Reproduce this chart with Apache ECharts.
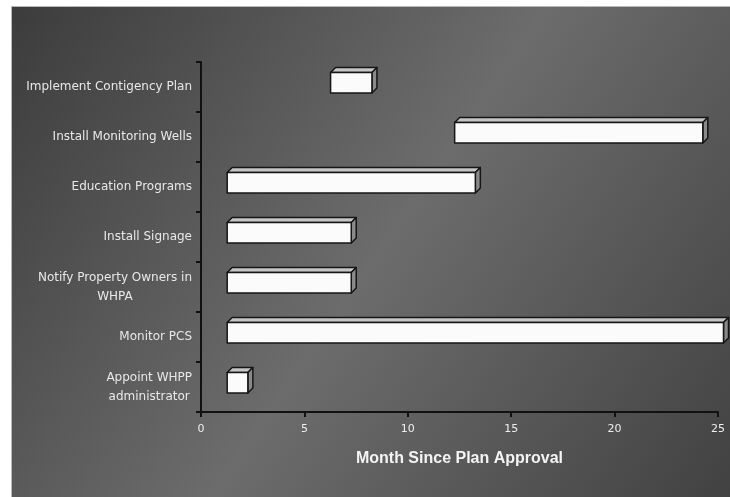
<!DOCTYPE html>
<html>
<head>
<meta charset="utf-8">
<script src="https://cdn.jsdelivr.net/npm/echarts@6/dist/echarts.min.js"></script>
<style>
    html, body { margin: 0; padding: 0; background: #fff; }
    #chart { width: 730px; height: 497px; }
</style>
</head>
<body>
<div id="chart"></div>
<script>
// tasks listed bottom to top (category axis starts at the bottom)
var tasks = ['Appoint WHPP\nadministrator', 'Monitor PCS', 'Notify Property Owners in\nWHPA',
    'Install Signage', 'Education Programs', 'Install Monitoring Wells', 'Implement Contigency Plan'];
// month each task starts / ends
var startMonth = [1, 1, 1, 1, 1, 12, 6];
var endMonth = [2, 25, 7, 7, 13, 24, 8];
var monthTicks = [0, 5, 10, 15, 20, 25];

var chart = echarts.init(document.getElementById('chart'));

var barData = [];
for (var i = 0; i < tasks.length; i++) {
    barData.push([i, startMonth[i], endMonth[i]]);
}

// 3d looking box like the old excel gantt bars
function renderBox(params, api) {
    var idx = api.value(0);
    var p0 = api.coord([api.value(1), idx]);
    var p1 = api.coord([api.value(2), idx]);
    var shift = 5.5, d = 5;
    var x0 = p0[0] + shift, x1 = p1[0] + shift;
    var yT = p0[1] - 14.5, yB = p0[1] + 6;
    var line = { stroke: '#161616', lineWidth: 1.5, lineJoin: 'round' };
    return {
        type: 'group',
        children: [
            { type: 'polygon', shape: { points: [[x0, yT], [x1, yT], [x1 + d, yT - d], [x0 + d, yT - d]] },
              style: Object.assign({ fill: '#c6c6c6' }, line) },
            { type: 'polygon', shape: { points: [[x1, yT], [x1 + d, yT - d], [x1 + d, yB - d], [x1, yB]] },
              style: Object.assign({ fill: '#8a8a8a' }, line) },
            { type: 'rect', shape: { x: x0, y: yT, width: x1 - x0, height: yB - yT },
              style: Object.assign({ fill: '#fbfbfb' }, line) }
        ]
    };
}

var option = {
    backgroundColor: '#ffffff',
    animation: false,
    graphic: [{
        type: 'rect',
        z: -100,
        shape: { x: 11.5, y: 6.5, width: 730, height: 500 },
        style: {
            fill: new echarts.graphic.LinearGradient(0, 0, 1, 1, [
                { offset: 0, color: '#3c3c3c' },
                { offset: 0.5, color: '#6c6c6c' },
                { offset: 1, color: '#404040' }
            ]),
            stroke: '#b8b8b8',
            lineWidth: 1
        }
    }],
    grid: { left: 201, right: 12, top: 62, bottom: 85, containLabel: false },
    xAxis: {
        type: 'value',
        min: monthTicks[0],
        max: monthTicks[monthTicks.length - 1],
        interval: 5,
        name: 'Month Since Plan Approval',
        nameLocation: 'middle',
        nameGap: 39,
        nameTextStyle: { color: '#f4f4f4', fontSize: 16, fontWeight: 'bold', fontFamily: 'Liberation Sans' },
        axisLine: { show: true, lineStyle: { color: '#111', width: 2 } },
        axisTick: { show: true, length: 5, lineStyle: { color: '#111', width: 2 } },
        axisLabel: { color: '#eeeeee', fontSize: 11, margin: 12, fontFamily: 'DejaVu Sans' },
        splitLine: { show: false }
    },
    yAxis: {
        type: 'category',
        data: tasks,
        axisLine: { show: true, lineStyle: { color: '#111', width: 2 } },
        axisTick: { show: true, length: 5, lineStyle: { color: '#111', width: 2 } },
        axisLabel: {
            margin: 9,
            align: 'right',
            formatter: function (v) {
                return v.split('\n').map(function (s) { return '{c|' + s + '}'; }).join('\n');
            },
            rich: {
                c: { align: 'center', color: '#e8e8e8', fontSize: 12, lineHeight: 19, fontFamily: 'DejaVu Sans' }
            }
        }
    },
    series: [{
        type: 'custom',
        renderItem: renderBox,
        encode: { x: [1, 2], y: 0 },
        data: barData,
        clip: false
    }]
};
chart.setOption(option);
</script>
</body>
</html>
